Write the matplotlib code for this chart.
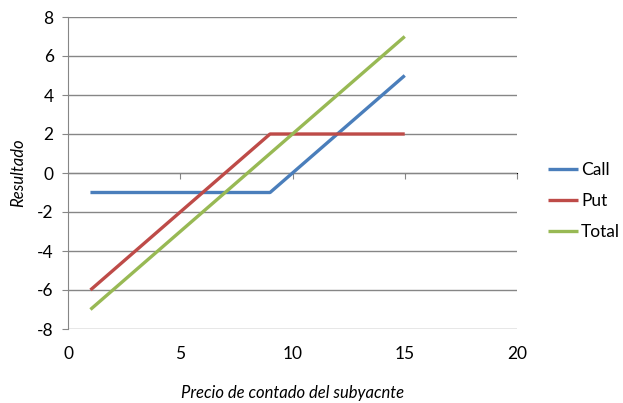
import matplotlib.pyplot as plt

# payoff data
precio = [1, 9, 15]
call = [-1, -1, 5]
put = [-6, 2, 2]
total = [-7, 1, 7]

series_names = ['Call', 'Put', 'Total']
colors = ['#4A7EBB', '#BE4B48', '#98B954']

plt.rcParams['font.family'] = ['Lato', 'DejaVu Sans']
plt.rcParams['axes.unicode_minus'] = False

fig = plt.figure(figsize=(6.23, 4.03), dpi=100)
ax = fig.add_axes([68 / 623, 1 - 329 / 403, 449 / 623, 312 / 403])

for ys, name, c in zip([call, put, total], series_names, colors):
    ax.plot(precio, ys, color=c, lw=2.4, label=name, solid_capstyle='butt')

ax.set_xlim(0, 20)
ax.set_ylim(-8, 8)
ax.set_yticks(range(-8, 9, 2))
ax.set_xticks(range(0, 21, 5))

grid_c = '#868686'
ax.grid(axis='y', color=grid_c, lw=1)
ax.set_axisbelow(True)
for s in ['top', 'right', 'bottom']:
    ax.spines[s].set_visible(False)
ax.spines['left'].set_color(grid_c)

ax.tick_params(axis='x', length=0, pad=12, labelsize=12.5)
ax.tick_params(axis='y', length=4.3, color=grid_c, pad=6, labelsize=12.5, direction='out')

# horizontal axis crossing at zero, ticks hanging below it
sec = ax.secondary_xaxis(0.5)
sec.set_xticks(range(5, 21, 5))
sec.set_xticklabels([])
sec.tick_params(axis='x', length=4.3, color=grid_c, direction='in')
sec.spines['bottom'].set_color(grid_c)
sec.spines['bottom'].set_linewidth(1)

ax.set_ylabel('Resultado', style='italic', fontsize=12, labelpad=8)
ax.set_xlabel('Precio de contado del subyacnte', style='italic', fontsize=12, labelpad=17)

ax.legend(loc='center left', bbox_to_anchor=(548 / 623, 1 - 201 / 403), bbox_transform=fig.transFigure,
          borderaxespad=0, borderpad=0, frameon=False, fontsize=12.5,
          handlelength=1.75, handletextpad=0.15, labelspacing=0.85)

fig.savefig('out.png', dpi=100)
